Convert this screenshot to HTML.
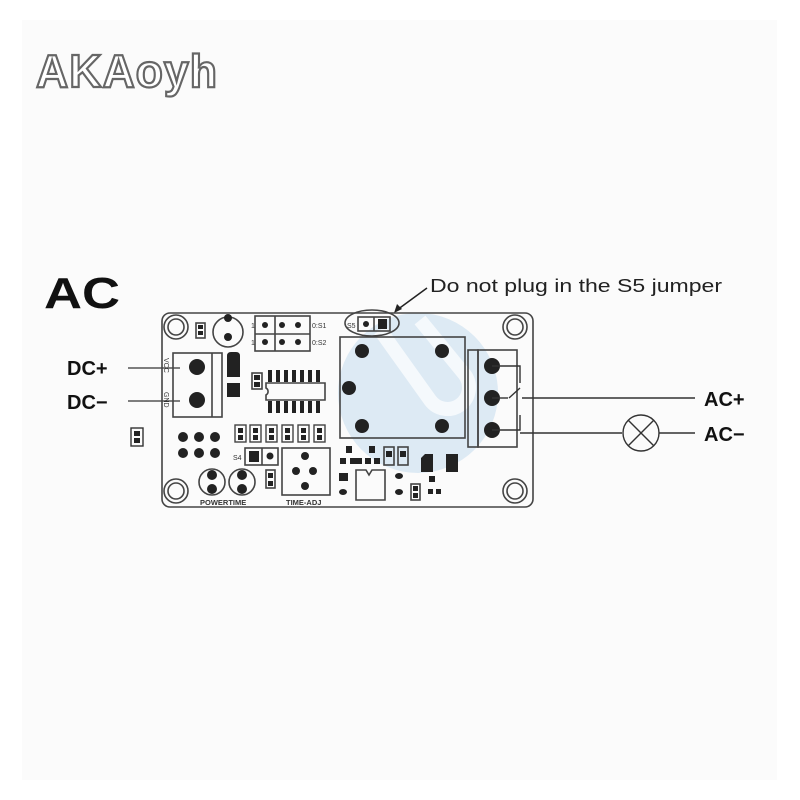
<!DOCTYPE html>
<html><head><meta charset="utf-8"><style>
html,body{margin:0;padding:0;background:#fff;}
svg{display:block;}
text{font-family:"Liberation Sans",sans-serif;}
</style></head><body>
<svg width="800" height="800" viewBox="0 0 800 800" xmlns="http://www.w3.org/2000/svg">
<rect width="800" height="800" fill="#fff"/>
<rect x="22" y="20" width="755" height="760" fill="#fbfbfb"/>
<text x="36" y="87" font-size="46" font-weight="bold" fill="#fff" stroke="#666" stroke-width="2.2" letter-spacing="1" textLength="182" lengthAdjust="spacingAndGlyphs">AKAoyh</text>
<circle cx="418" cy="393" r="80" fill="#d6e6f3" opacity="0.8"/>
<path d="M380 330 L430 400 A20 20 0 0 0 465 375 L420 320" fill="none" stroke="#fff" stroke-width="14" opacity="0.7"/>
<text x="44" y="308" font-size="44" font-weight="bold" fill="#111" textLength="76" lengthAdjust="spacingAndGlyphs">AC</text>
<text x="430" y="292" font-size="18" fill="#222" textLength="292" lengthAdjust="spacingAndGlyphs">Do not plug in the S5 jumper</text>
<line x1="427" y1="288" x2="397" y2="310" stroke="#222" stroke-width="1.5"/>
<path d="M394 313 L397 304 L402 309 Z" fill="#222"/>
<text x="67" y="375" font-size="20" font-weight="bold" fill="#111">DC+</text>
<text x="67" y="409" font-size="20" font-weight="bold" fill="#111">DC−</text>
<text x="704" y="406" font-size="20" font-weight="bold" fill="#111">AC+</text>
<text x="704" y="441" font-size="20" font-weight="bold" fill="#111">AC−</text>
<line x1="128" y1="368" x2="180" y2="368" stroke="#333" stroke-width="1.2"/>
<line x1="128" y1="401" x2="180" y2="401" stroke="#333" stroke-width="1.2"/>
<g fill="none" stroke="#444" stroke-width="1.6">
<rect x="162" y="313" width="371" height="194" rx="8"/>
<circle cx="176" cy="327" r="12"/><circle cx="176" cy="327" r="8"/>
<circle cx="176" cy="491" r="12"/><circle cx="176" cy="491" r="8"/>
<circle cx="515" cy="327" r="12"/><circle cx="515" cy="327" r="8"/>
<circle cx="515" cy="491" r="12"/><circle cx="515" cy="491" r="8"/>
<rect x="196" y="323" width="9" height="15"/>
<circle cx="228" cy="332" r="15"/>
<rect x="255" y="316" width="55" height="35"/><line x1="275" y1="316" x2="275" y2="351"/><line x1="255" y1="334" x2="310" y2="334"/>
<rect x="173" y="353" width="49" height="64"/><line x1="212" y1="353" x2="212" y2="417"/>
<rect x="252" y="373" width="10" height="16"/>
<path d="M266 383 H325 V400 H266 V395 A4 4 0 0 0 266 388 Z"/>
<rect x="340" y="337" width="125" height="101"/>
<rect x="468" y="350" width="10" height="97"/><rect x="478" y="350" width="39" height="97"/>
<ellipse cx="372" cy="323" rx="27" ry="13"/>
<rect x="358" y="317" width="32" height="14"/><line x1="374" y1="317" x2="374" y2="331"/>
<rect x="245" y="448" width="33" height="17"/><line x1="262" y1="448" x2="262" y2="465"/>
<rect x="282" y="448" width="48" height="47"/>
<circle cx="212" cy="482" r="13"/><circle cx="242" cy="482" r="13"/>
<rect x="266" y="470" width="9" height="18"/>
<path d="M356 470 H366 L369 475 L372 470 H385 V500 H356 Z"/>
<rect x="384" y="447" width="10" height="18"/><rect x="398" y="447" width="10" height="18"/>
<rect x="411" y="484" width="9" height="16"/>
</g>
<g fill="none" stroke="#444" stroke-width="1.4">
<rect x="235" y="425" width="11" height="17"/><rect x="250" y="425" width="11" height="17"/><rect x="266" y="425" width="11" height="17"/><rect x="282" y="425" width="11" height="17"/><rect x="298" y="425" width="11" height="17"/><rect x="314" y="425" width="11" height="17"/>
</g>
<g fill="#222">
<circle cx="228" cy="318" r="4"/><circle cx="228" cy="337" r="4"/>
<rect x="198" y="325" width="5" height="4"/><rect x="198" y="331" width="5" height="4"/>
<circle cx="265" cy="325" r="3"/><circle cx="282" cy="325" r="3"/><circle cx="298" cy="325" r="3"/>
<circle cx="265" cy="342" r="3"/><circle cx="282" cy="342" r="3"/><circle cx="298" cy="342" r="3"/>
<circle cx="197" cy="367" r="8"/><circle cx="197" cy="400" r="8"/>
<path d="M227 364 V356 Q227 352 231 352 H236 Q240 352 240 356 V377 H227 Z"/>
<rect x="227" y="383" width="13" height="14"/>
<rect x="254" y="375" width="6" height="5"/><rect x="254" y="382" width="6" height="5"/>
<rect x="268" y="370" width="4" height="12"/><rect x="276" y="370" width="4" height="12"/><rect x="284" y="370" width="4" height="12"/><rect x="292" y="370" width="4" height="12"/><rect x="300" y="370" width="4" height="12"/><rect x="308" y="370" width="4" height="12"/><rect x="316" y="370" width="4" height="12"/>
<rect x="268" y="401" width="4" height="12"/><rect x="276" y="401" width="4" height="12"/><rect x="284" y="401" width="4" height="12"/><rect x="292" y="401" width="4" height="12"/><rect x="300" y="401" width="4" height="12"/><rect x="308" y="401" width="4" height="12"/><rect x="316" y="401" width="4" height="12"/>
<rect x="238" y="428" width="5" height="5"/><rect x="238" y="435" width="5" height="5"/>
<rect x="253" y="428" width="5" height="5"/><rect x="253" y="435" width="5" height="5"/>
<rect x="269" y="428" width="5" height="5"/><rect x="269" y="435" width="5" height="5"/>
<rect x="285" y="428" width="5" height="5"/><rect x="285" y="435" width="5" height="5"/>
<rect x="301" y="428" width="5" height="5"/><rect x="301" y="435" width="5" height="5"/>
<rect x="317" y="428" width="5" height="5"/><rect x="317" y="435" width="5" height="5"/>
<circle cx="183" cy="437" r="5"/><circle cx="199" cy="437" r="5"/><circle cx="215" cy="437" r="5"/>
<circle cx="183" cy="453" r="5"/><circle cx="199" cy="453" r="5"/><circle cx="215" cy="453" r="5"/>
<rect x="249" y="451" width="10" height="11"/><circle cx="270" cy="456" r="3.5"/>
<circle cx="305" cy="456" r="4"/><circle cx="296" cy="471" r="4"/><circle cx="313" cy="471" r="4"/><circle cx="305" cy="486" r="4"/>
<circle cx="212" cy="475" r="5"/><circle cx="212" cy="489" r="5"/><circle cx="242" cy="475" r="5"/><circle cx="242" cy="489" r="5"/>
<rect x="268" y="473" width="5" height="5"/><rect x="268" y="481" width="5" height="5"/>
<rect x="131" y="428" width="12" height="18" fill="none" stroke="#333" stroke-width="1.4"/>
<rect x="134" y="431" width="6" height="5"/><rect x="134" y="438" width="6" height="5"/>
<circle cx="366" cy="324" r="3"/><rect x="378" y="319" width="9" height="10"/>
<circle cx="362" cy="351" r="7"/><circle cx="442" cy="351" r="7"/><circle cx="349" cy="388" r="7"/><circle cx="362" cy="426" r="7"/><circle cx="442" cy="426" r="7"/>
<circle cx="492" cy="366" r="8"/><circle cx="492" cy="398" r="8"/><circle cx="492" cy="430" r="8"/>
<rect x="346" y="446" width="6" height="7"/><rect x="340" y="458" width="6" height="6"/><rect x="350" y="458" width="6" height="6"/><rect x="356" y="458" width="6" height="6"/>
<rect x="369" y="446" width="6" height="7"/><rect x="365" y="458" width="6" height="6"/><rect x="374" y="458" width="6" height="6"/>
<rect x="386" y="451" width="6" height="6"/><rect x="400" y="451" width="6" height="6"/>
<path d="M421 458 L425 454 H433 V472 H421 Z"/><rect x="446" y="454" width="12" height="18"/>
<rect x="339" y="473" width="9" height="8"/><ellipse cx="343" cy="492" rx="4" ry="3"/>
<ellipse cx="399" cy="476" rx="4" ry="3"/><ellipse cx="399" cy="492" rx="4" ry="3"/>
<rect x="413" y="486" width="5" height="5"/><rect x="413" y="493" width="5" height="5"/>
<rect x="429" y="476" width="6" height="6"/><rect x="428" y="489" width="5" height="5"/><rect x="436" y="489" width="5" height="5"/>
</g>
<g font-family="Liberation Serif" font-size="7" fill="#333">
<text x="251" y="328">1</text><text x="251" y="345">1</text>
<text x="312" y="328">0:S1</text><text x="312" y="345">0:S2</text>
<text x="347" y="328">S5</text><text x="233" y="460">S4</text>
<text x="200" y="505" font-size="7.5" font-weight="bold">POWERTIME</text>
<text x="286" y="505" font-size="7.5" font-weight="bold">TIME-ADJ</text>
<text x="0" y="0" transform="translate(164,358) rotate(90)">VCC</text>
<text x="0" y="0" transform="translate(164,392) rotate(90)">GND</text>
</g>
<g fill="none" stroke="#333" stroke-width="1.4">
<path d="M492 366 H520 V383"/>
<line x1="509" y1="398" x2="520" y2="388"/>
<path d="M492 398 H508"/>
<line x1="522" y1="398" x2="695" y2="398"/>
<path d="M520 415 V430 H492"/>
<line x1="520" y1="433" x2="622" y2="433"/>
<circle cx="641" cy="433" r="18"/>
<line x1="628" y1="420" x2="654" y2="446"/><line x1="654" y1="420" x2="628" y2="446"/>
<line x1="659" y1="433" x2="695" y2="433"/>
</g>
</svg>
</body></html>
